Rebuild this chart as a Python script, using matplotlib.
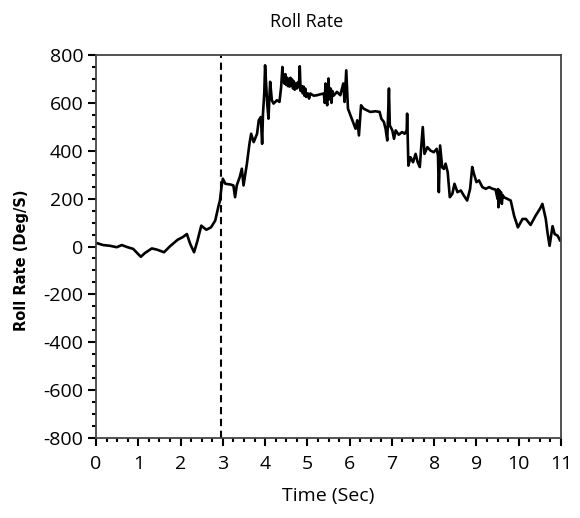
import matplotlib
matplotlib.use("Agg")
import matplotlib.pyplot as plt
from matplotlib.ticker import MultipleLocator

plt.rcParams['axes.unicode_minus'] = False

# Roll rate trace (time in seconds, rate in deg/s)
time_s = [0.00, 0.17, 0.33, 0.49, 0.61, 0.73, 0.88, 1.06, 1.16, 1.32, 1.44, 1.61,
          1.75, 1.93, 2.05, 2.15, 2.23, 2.32, 2.40, 2.49, 2.61, 2.72, 2.82, 2.90,
          2.93, 2.97, 3.00, 3.06, 3.18, 3.25, 3.29, 3.33, 3.40, 3.45, 3.49, 3.57,
          3.63, 3.67, 3.73, 3.81, 3.85, 3.90, 3.93, 3.95, 3.98, 4.00, 4.05, 4.08,
          4.12, 4.16, 4.20, 4.28, 4.34, 4.38,
          4.41, 4.43, 4.44, 4.46, 4.48, 4.50, 4.52, 4.54, 4.56, 4.58, 4.60, 4.62,
          4.64, 4.66, 4.68, 4.70, 4.72, 4.75, 4.77, 4.80, 4.82, 4.84, 4.87, 4.89,
          4.91, 4.93, 4.95, 4.97, 5.01, 5.04, 5.07, 5.15, 5.23, 5.31,
          5.39, 5.41, 5.43, 5.45, 5.47, 5.49, 5.50, 5.52, 5.55, 5.57, 5.59, 5.62,
          5.70, 5.78, 5.85, 5.88, 5.92, 5.96, 6.02, 6.08, 6.14, 6.18, 6.22, 6.27,
          6.33, 6.41, 6.49, 6.61, 6.71, 6.75, 6.81, 6.85, 6.89, 6.93, 6.95, 7.01,
          7.05, 7.09, 7.16, 7.24, 7.30, 7.35, 7.36, 7.39, 7.44, 7.50, 7.56, 7.61,
          7.66, 7.69, 7.73, 7.77, 7.84, 7.91, 7.99, 8.06, 8.09, 8.11, 8.14, 8.19,
          8.23, 8.27, 8.32, 8.37, 8.43, 8.48, 8.55, 8.63, 8.70, 8.78, 8.85, 8.90,
          8.94, 9.00, 9.06, 9.14, 9.22, 9.30, 9.38, 9.45, 9.50, 9.51, 9.52, 9.54,
          9.56, 9.58, 9.60, 9.62, 9.65, 9.73, 9.81, 9.89, 9.98, 10.09, 10.17,
          10.28, 10.40, 10.50, 10.56, 10.64, 10.68, 10.73, 10.80, 10.85, 10.92,
          10.98, 11.00]
roll_rate = [15, 6, 3, -3, 6, -2, -10, -43, -27, -8, -13, -24,
             1, 28, 39, 52, 10, -24, 24, 87, 70, 80, 108, 171,
             190, 250, 283, 262, 259, 255, 206, 255, 290, 325, 255, 346,
             429, 471, 436, 471, 527, 541, 429, 555, 639, 757, 597, 534,
             688, 611, 597, 611, 604, 667,
             750, 690, 715, 680, 720, 675, 705, 670, 700, 668, 705, 672,
             698, 660, 690, 655, 680, 660, 685, 665, 753, 650, 670, 640,
             668, 630, 660, 625, 640, 618, 639, 630, 632, 636,
             639, 600, 681, 610, 590, 670, 702, 615, 660, 600, 650, 630,
             646, 632, 681, 604, 736, 576, 548, 520, 492, 527, 464, 590,
             576, 569, 562, 565, 562, 534, 520, 492, 443, 660, 506, 485,
             450, 485, 467, 478, 471, 485, 555, 338, 373, 352, 387, 352,
             332, 408, 499, 387, 415, 401, 394, 408, 380, 227, 422, 330,
             324, 346, 310, 206, 220, 262, 227, 234, 213, 192, 241, 332,
             304, 269, 276, 248, 241, 248, 241, 238, 199, 240, 164, 235,
             200, 227, 178, 215, 206, 199, 192, 129, 80, 115, 115,
             90, 129, 157, 178, 115, 59, 3, 85, 52, 45,
             24, 31]

event_time = 2.95
x_ticks = list(range(0, 12))
y_ticks = list(range(-800, 801, 200))

fig = plt.figure(figsize=(5.8, 5.18), dpi=100)
ax = fig.add_axes([96 / 580, 1 - 438 / 518, 465 / 580, 383 / 518])

ax.plot(time_s, roll_rate, color='black', lw=1.9, solid_joinstyle='round')
ax.axvline(event_time, color='black', lw=1.5, linestyle=(0, (3.5, 2.2)))

ax.set_xlim(0, 11)
ax.set_ylim(-800, 800)
ax.set_xticks(x_ticks)
ax.set_yticks(y_ticks)
ax.xaxis.set_minor_locator(MultipleLocator(0.25))
ax.yaxis.set_minor_locator(MultipleLocator(50))

tick_font = dict(family='Open Sans', size=14)
ax.set_xticklabels([str(v) for v in x_ticks], **tick_font)
ax.set_yticklabels([str(v) for v in y_ticks], **tick_font)
ax.tick_params(which='major', direction='out', length=6, width=1.5, color='black')
ax.tick_params(axis='x', which='major', pad=6)
ax.tick_params(axis='y', which='major', pad=3)
ax.tick_params(which='minor', direction='out', length=3, width=1.5, color='black')

for sp in ax.spines.values():
    sp.set_color('#444444')
    sp.set_linewidth(1.3)

ax.set_xlabel('Time (Sec)', family='Open Sans', size=14, labelpad=10)
fig.text(22 / 580, 1 - 260 / 518, 'Roll Rate (Deg/S)', family='DejaVu Sans',
         weight='bold', size=10.5, rotation=90, ha='center', va='center')
fig.text(307 / 580, 1 - 22 / 518, 'Roll Rate', family='Open Sans', size=13,
         ha='center', va='center')

fig.savefig('out.png', dpi=100)
